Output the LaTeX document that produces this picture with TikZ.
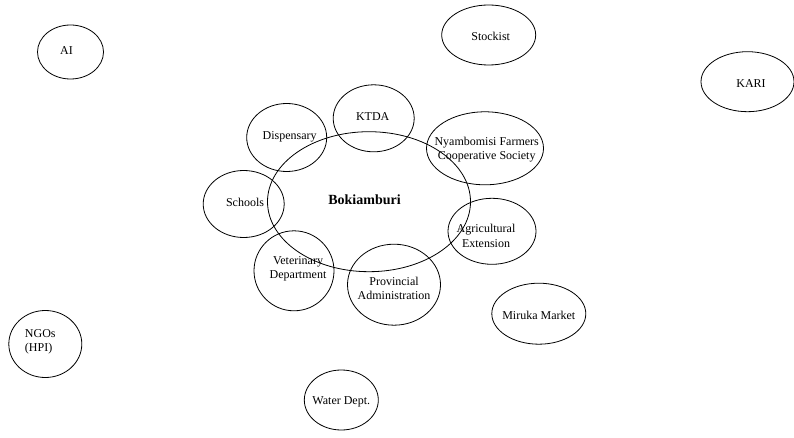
\documentclass[tikz,border=0pt]{standalone}
\usepackage{fontspec}
\setmainfont{Liberation Serif}
\usetikzlibrary{shapes.geometric}
\tikzset{
  bub/.style={draw, ellipse, line width=0.8pt, inner sep=0pt},
  txt/.style={font=\fontsize{12}{14.3}\selectfont, align=center, inner sep=0pt},
  ltxt/.style={font=\fontsize{12}{14.3}\selectfont, align=left, inner sep=0pt},
  btxt/.style={font=\fontsize{14}{16}\selectfont\bfseries, inner sep=0pt}
}
\begin{document}
\begin{tikzpicture}[x=1pt,y=-1pt]
\useasboundingbox (0,0) rectangle (794,438);
% outer actors
\node[bub, minimum width=66pt, minimum height=54pt,
  label={[txt,xshift=-4pt,yshift=1.5pt]center:AI}] (ai) at (70.5,52) {};
\node[bub, minimum width=94pt, minimum height=60pt,
  label={[txt,xshift=2pt,yshift=-1.5pt]center:Stockist}] (stockist) at (488.7,35) {};
\node[bub, minimum width=93pt, minimum height=60pt,
  label={[txt,xshift=3.5pt,yshift=-1.5pt]center:KARI}] (kari) at (747.5,81.7) {};
\node[bub, minimum width=94pt, minimum height=61pt,
  label={[txt,yshift=-1.5pt]center:Miruka Market}] (miruka) at (538.8,313.7) {};
\node[bub, minimum width=73pt, minimum height=67pt,
  label={[ltxt,xshift=-5pt,yshift=2pt]center:NGOs\\(HPI)}] (ngos) at (45.3,344) {};
\node[bub, minimum width=74pt, minimum height=60pt,
  label={[txt,yshift=-1.5pt]center:Water Dept.}] (water) at (341.3,400) {};
% central community
\node[bub, minimum width=203pt, minimum height=140pt,
  label={[btxt,xshift=-4.5pt,yshift=1.5pt]center:Bokiamburi}] (bok) at (369,201.7) {};
% inner ring
\node[bub, minimum width=81pt, minimum height=67pt,
  label={[txt,xshift=-1pt,yshift=1.5pt]center:KTDA}] (ktda) at (373.7,118.3) {};
\node[bub, minimum width=80pt, minimum height=68pt,
  label={[txt,xshift=3pt,yshift=1pt]center:Dispensary}] (disp) at (286.7,137.5) {};
\node[bub, minimum width=117pt, minimum height=73pt,
  label={[txt,xshift=1.7pt,yshift=-1.5pt]center:Nyambomisi Farmers\\Cooperative Society}] (nyam) at (485,148.3) {};
\node[bub, minimum width=81pt, minimum height=67pt,
  label={[txt,xshift=1.3pt,yshift=1.3pt]center:Schools}] (schools) at (243.7,204) {};
\node[bub, minimum width=88pt, minimum height=66pt,
  label={[txt,xshift=-6pt,yshift=-4.5pt]center:Agricultural\\Extension}] (agri) at (492,231.3) {};
\node[bub, minimum width=80pt, minimum height=80pt,
  label={[txt,xshift=4pt,yshift=2pt]center:Veterinary\\Department}] (vet) at (294,270.8) {};
\node[bub, minimum width=93pt, minimum height=81pt,
  label={[txt,yshift=-3.5pt]center:Provincial\\Administration}] (prov) at (394,284.7) {};
\end{tikzpicture}
\end{document}
